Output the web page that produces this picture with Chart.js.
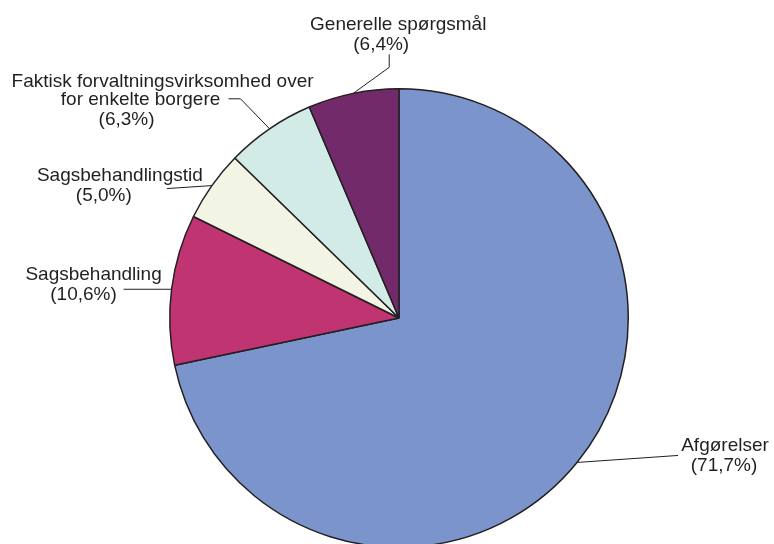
<!DOCTYPE html>
<html>
<head>
<meta charset="utf-8">
<script src="https://cdn.jsdelivr.net/npm/chart.js"></script>
<style>
html,body{margin:0;padding:0;background:#fff;overflow:hidden;}
#wrap{position:absolute;left:0;top:0;width:774px;height:560px;}
</style>
</head>
<body>
<div id="wrap"><canvas id="pie" width="774" height="560"></canvas></div>
<script>
// Data
const categories = [
  ["Afgørelser"],
  ["Sagsbehandling"],
  ["Sagsbehandlingstid"],
  ["Faktisk forvaltningsvirksomhed over", "for enkelte borgere"],
  ["Generelle spørgsmål"]
];
const shares = [71.7, 10.6, 5.0, 6.3, 6.4];
const colors = ["#7b95cc", "#c03472", "#f3f5e4", "#d2ebe7", "#722a6a"];

// leader path offsets from the slice's outer mid point, and text offsets from the path end
const leaderPaths = [
  [[101, -7]],
  [[-48, 0]],
  [[-45, 3]],
  [[-29, -30], [-41, -30]],
  [[36, -26], [36, -39]]
];
const textOffsets = [
  [[47, -4], [46, 16]],
  [[-30, -9], [-40, 11]],
  [[-47, -8], [-63, 12]],
  [[-66, -12], [-88, 6], [-102, 26]],
  [[9, -24], [-8, -4]]
];

const ink = "#231f20";

function pct(v){
  return "(" + v.toFixed(1).replace(".", ",") + "%)";
}

// Slice labels with leader lines
const sliceLabels = {
  id: "sliceLabels",
  afterDraw(chart){
    const ctx = chart.ctx;
    const arcs = chart.getDatasetMeta(0).data;
    ctx.save();
    ctx.strokeStyle = ink;
    ctx.lineWidth = 1;
    ctx.fillStyle = ink;
    ctx.font = "19px 'Liberation Sans', Arial, sans-serif";
    ctx.textAlign = "center";
    ctx.textBaseline = "alphabetic";
    arcs.forEach((arc, i) => {
      const p = arc.getProps(["x", "y", "startAngle", "endAngle", "outerRadius"], true);
      const a = (p.startAngle + p.endAngle) / 2;
      const sx = p.x + Math.cos(a) * p.outerRadius;
      const sy = p.y + Math.sin(a) * p.outerRadius;
      ctx.beginPath();
      ctx.moveTo(sx, sy);
      let ex = sx, ey = sy;
      leaderPaths[i].forEach(o => {
        ex = sx + o[0];
        ey = sy + o[1];
        ctx.lineTo(ex, ey);
      });
      ctx.stroke();
      const lines = categories[i].concat([pct(shares[i])]);
      lines.forEach((t, j) => {
        const o = textOffsets[i][j];
        ctx.fillText(t, ex + o[0], ey + o[1]);
      });
    });
    ctx.restore();
  }
};

new Chart(document.getElementById("pie"), {
  type: "pie",
  data: {
    labels: categories.map(c => c.join(" ")),
    datasets: [{
      data: shares,
      backgroundColor: colors,
      borderColor: ink,
      borderWidth: 1.5
    }]
  },
  options: {
    responsive: false,
    animation: false,
    layout: { padding: { left: 169, right: 145, top: 88, bottom: 12 } },
    plugins: {
      legend: { display: false },
      tooltip: { enabled: false }
    }
  },
  plugins: [sliceLabels]
});
</script>
</body>
</html>
